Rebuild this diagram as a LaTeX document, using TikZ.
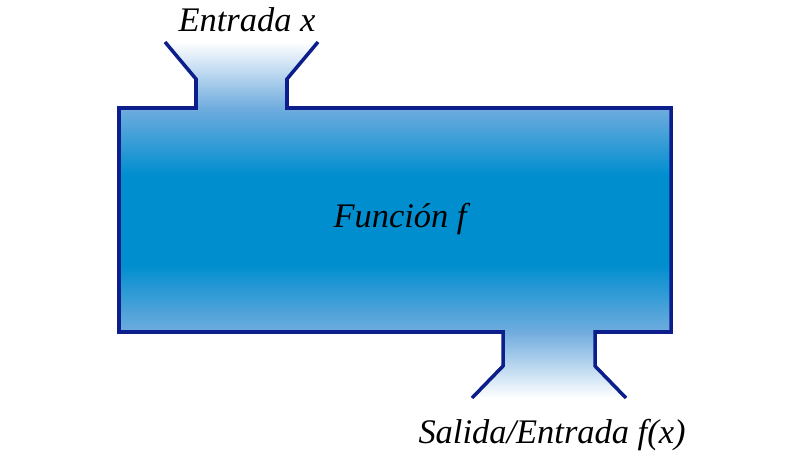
\documentclass[tikz,border=0pt]{standalone}
\usepackage{fontspec}
\setmainfont{Liberation Serif}
\definecolor{borde}{RGB}{12,30,140}
\definecolor{claro}{RGB}{112,172,222}
\definecolor{medio}{RGB}{0,142,207}
\pgfdeclareverticalshading{caja}{100bp}{color(0bp)=(claro); color(25bp)=(claro); color(40bp)=(medio); color(60bp)=(medio); color(75bp)=(claro); color(100bp)=(claro)}
\begin{document}
\begin{tikzpicture}[x=0.025cm,y=-0.025cm]
\tikzset{texto/.style={anchor=base,font=\fontsize{24.5}{28}\selectfont\itshape}}
\useasboundingbox (0,0) rectangle (800,458);
% esquinas de la caja y de los embudos
\coordinate (A) at (119,108); \coordinate (B) at (671,108); \coordinate (C) at (671,332); \coordinate (D) at (119,332);
\coordinate (E1) at (165,42); \coordinate (E2) at (196,79); \coordinate (E3) at (196,108);
\coordinate (E4) at (318,42); \coordinate (E5) at (287,79); \coordinate (E6) at (287,108);
\coordinate (S1) at (472,398); \coordinate (S2) at (503,366); \coordinate (S3) at (503,332);
\coordinate (S4) at (626,398); \coordinate (S5) at (595,366); \coordinate (S6) at (595,332);
% rellenos
\shade[shading=caja] (A) rectangle (C);
\shade[top color=white, bottom color=claro] (E1) -- (E2) -- (E3) -- (E6) -- (E5) -- (E4) -- cycle;
\shade[top color=claro, bottom color=white] (S3) -- (S2) -- (S1) -- (S4) -- (S5) -- (S6) -- cycle;
% contorno
\draw[borde,line width=2.5pt,line join=miter] (E1)--(E2)--(E3)--(A)--(D)--(S3)--(S2)--(S1);
\draw[borde,line width=2.5pt,line join=miter] (E4)--(E5)--(E6)--(B)--(C)--(S6)--(S5)--(S4);
\node[texto] (entrada) at (247,32) {Entrada x};
\node[texto] (funcion) at (400,228) {Función f};
\node[texto] (salida) at (552,443) {Salida/Entrada f(x)};
\end{tikzpicture}
\end{document}
